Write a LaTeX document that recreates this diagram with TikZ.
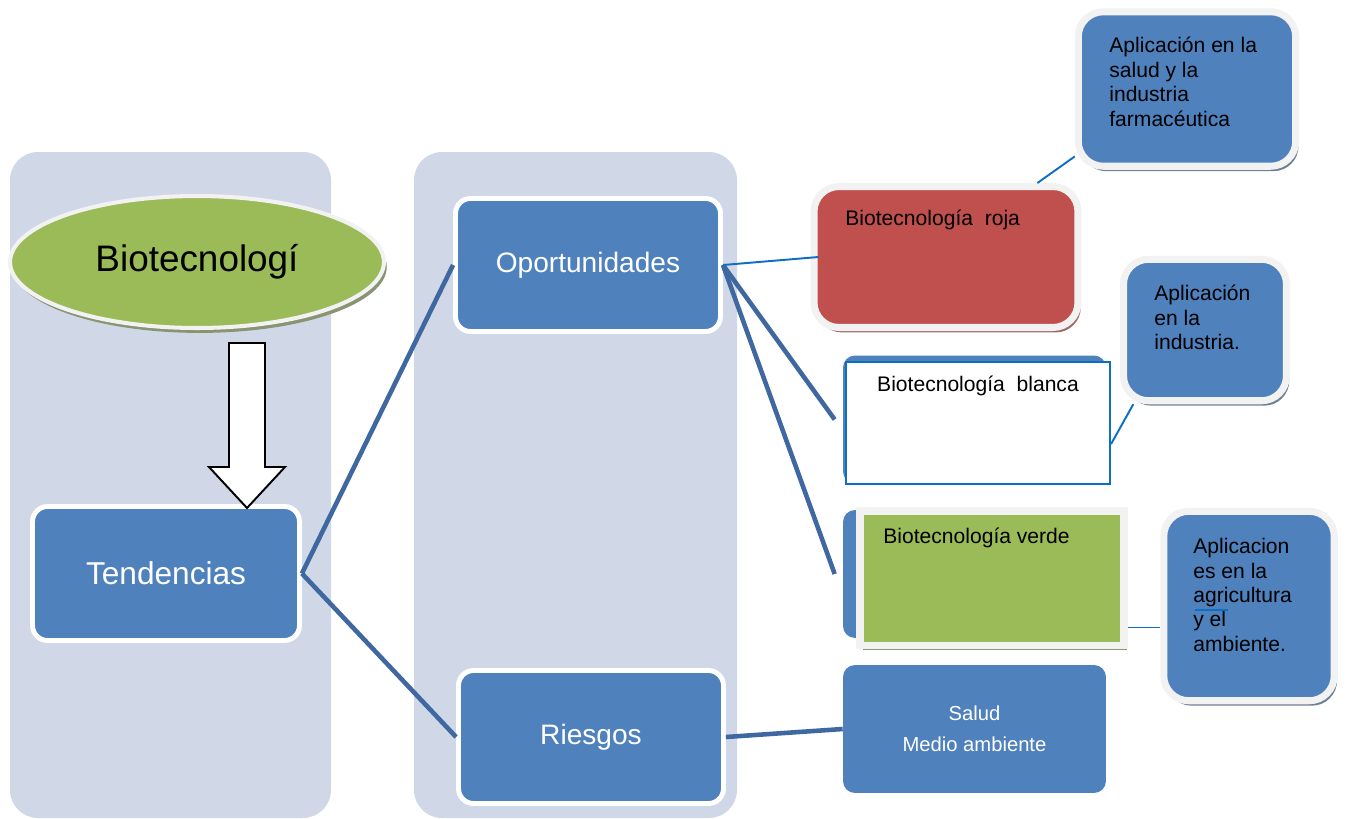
\documentclass[tikz,border=0pt]{standalone}
\usepackage{fontspec}
\setmainfont{Liberation Sans}
\usetikzlibrary{shapes.geometric,shadows,calc}

\definecolor{colbg}{HTML}{D0D8E8}
\definecolor{boxblue}{HTML}{4F81BD}
\definecolor{leafgreen}{HTML}{9BBB59}
\definecolor{boxred}{HTML}{C0504D}
\definecolor{linkblue}{HTML}{3F67A0}
\definecolor{thinblue}{HTML}{0E6FC1}
\definecolor{rim}{HTML}{F2F2F2}

\begin{document}
\begin{tikzpicture}[x=0.02cm,y=-0.02cm]
	\tikzstyle{column}=[fill=colbg,rounded corners=0.56cm]
	\tikzstyle{shad}=[drop shadow={shadow xshift=1.6pt,shadow yshift=-2.8pt,fill=#1,opacity=1}]
	\tikzstyle{mainbox}=[draw=white,line width=2.8pt,fill=boxblue,rounded corners=0.3cm,text=white,inner sep=0pt,minimum width=5.3cm,minimum height=2.66cm,font=\fontsize{16}{19}\selectfont]
	\tikzstyle{appbox}=[draw=rim,line width=4pt,fill=boxblue,rounded corners=0.5cm,inner sep=0pt,shad=boxblue!35!gray]
	\tikzstyle{plainbox}=[fill=boxblue,rounded corners=0.24cm,inner sep=0pt,minimum width=5.26cm,minimum height=2.56cm]
	\tikzstyle{smalltxt}=[inner sep=0pt,font=\fontsize{12}{13.9}\selectfont]
	\tikzstyle{apptxt}=[inner sep=0pt,align=left,anchor=north west,font=\fontsize{12}{13.9}\selectfont]
	\tikzstyle{thick link}=[draw=linkblue,line width=2.6pt]
	\tikzstyle{thin link}=[draw=thinblue,line width=1.1pt]
	\tikzstyle{hollow}=[fill=white,draw=black,line width=1.1pt,line join=miter]

	\useasboundingbox (0,0) rectangle (1347,819);

	% background columns
	\fill[column] (10,152) rectangle (331,818);
	\fill[column] (414,152) rectangle (737,818);

	% left column
	\node[ellipse,draw=rim,line width=2.3pt,fill=leafgreen,shad=leafgreen!35!gray,inner sep=0pt,minimum width=7.48cm,minimum height=2.64cm,font=\fontsize{21}{25}\selectfont](bio) at (197,262){Biotecnologí};
	\node[mainbox,minimum width=5.34cm,minimum height=2.68cm,font=\fontsize{18}{22}\selectfont](tend) at (166,573.5){Tendencias};

	\coordinate (arrtop) at (247,343);
	\coordinate (arrtip) at (247,508);
	\draw[hollow] ($(arrtop)+(-18,0)$) -- ($(arrtop)+(18,0)$) -- ++(0,124) -- ++(20,0) -- (arrtip) -- ++(-38,-41) -- ++(20,0) -- cycle;

	% middle column
	\node[mainbox](oport) at (588,265){Oportunidades};
	\node[mainbox](ries) at (591,737){Riesgos};

	% kinds of biotechnology
	\node[draw=rim,line width=4pt,fill=boxred,rounded corners=0.5cm,inner sep=0pt,shad=boxred!45!gray,minimum width=5.28cm,minimum height=2.82cm](roja) at (946,257){};
	\node[smalltxt,anchor=west](rojatxt) at (845,220){Biotecnología\ \ roja};

	\node[plainbox](blancabg) at (974.5,419.5){};
	\node[draw=thinblue,line width=1.2pt,fill=white,inner sep=0pt,minimum width=5.28cm,minimum height=2.44cm](blanca) at (978,423){};
	\node[smalltxt](blancatxt) at (978,386){Biotecnología\ \ blanca};

	\node[plainbox](verdebg) at (974.5,574){};
	\node[draw=rim,line width=4.25pt,fill=leafgreen,inner sep=0pt,shad=leafgreen!40!gray,minimum width=5.29cm,minimum height=2.69cm](verde) at (992,578){};
	\node[smalltxt,anchor=west](verdetxt) at (883,538){Biotecnología verde};

	\node[plainbox,text=white,align=center,font=\fontsize{11.5}{17.6}\selectfont](salud) at (974.5,729){Salud\\Medio ambiente};

	% applications
	\node[appbox,minimum width=4.35cm,minimum height=3.09cm](farma) at (1187,89){};
	\node[apptxt](farmatxt) at (1109,37){Aplicación en la\\salud y la\\industria\\farmacéutica};

	\node[appbox,minimum width=3.26cm,minimum height=2.83cm](indus) at (1205,330){};
	\node[apptxt](industxt) at (1154,285){Aplicación\\en la\\industria.};

	\node[appbox,minimum width=3.41cm,minimum height=3.79cm](agri) at (1249,606){};
	\node[apptxt](agritxt) at (1193,538){Aplicacion\\es en la\\agricultura\\y el\\ambiente.};
	\draw[thin link,line width=0.8pt] (1195,610) -- (1228,610);

	% connectors
	\draw[thick link] (tend.east) -- (oport.west);
	\draw[thick link] (tend.east) -- (ries.west);
	\draw[thick link] (oport.east) -- ([xshift=-0.16cm]blancabg.west);
	\draw[thick link] (oport.east) -- ([xshift=-0.16cm]verdebg.west);
	\draw[thick link] (ries.east) -- (salud.west);
	\draw[thin link] (oport.east) -- ([xshift=0.16cm]roja.west);
	\draw[thin link] (roja.39.5) -- (farma.211.7);
	\draw[thin link] (blanca.-9) -- (indus.226);
	\draw[thin link] (verde.-20) -- (verde.-20 -| agri.west);

\end{tikzpicture}
\end{document}
